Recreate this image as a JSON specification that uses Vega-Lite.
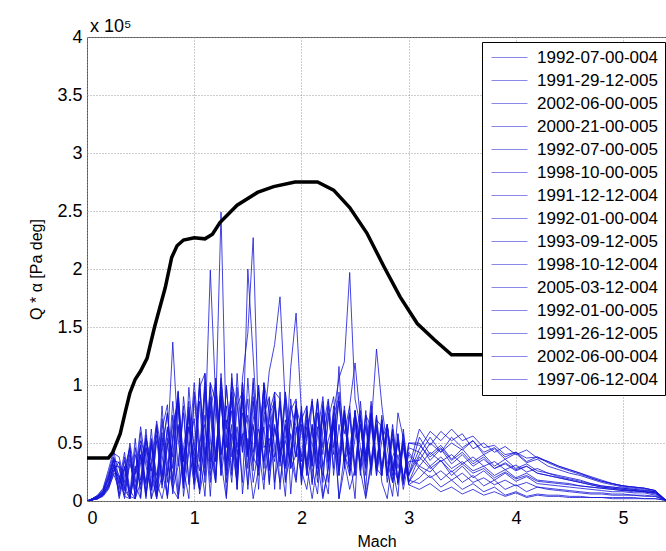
{
"$schema":"https://vega.github.io/schema/vega-lite/v6.json",
"width":579,"height":464,
"autosize":{"type":"none"},
"padding":{"left":87,"top":37,"right":0,"bottom":50},
"background":"white",
"title":{"text":"x 10⁵","anchor":"start","frame":"group","fontSize":18,"font":"Liberation Sans","fontWeight":"normal","color":"#000","offset":-8,"dx":3},
"config":{
 "view":{"stroke":"#555","strokeWidth":1},
 "font":"Liberation Sans",
 "axis":{"grid":true,"gridDash":[1,2],"gridColor":"#999","gridOpacity":1,"gridWidth":1,"domain":false,"ticks":false,"labelFont":"Liberation Sans","labelFontSize":18,"labelColor":"#000","titleFont":"Liberation Sans","titleFontSize":16,"titleFontWeight":"normal","titleColor":"#000"}
},
"datasets":{
 "names":[{"k":"a","run":"1992-07-00-004"},{"k":"b","run":"1991-29-12-005"},{"k":"c","run":"2002-06-00-005"},{"k":"d","run":"2000-21-00-005"},{"k":"e","run":"1992-07-00-005"},{"k":"f","run":"1998-10-00-005"},{"k":"g","run":"1991-12-12-004"},{"k":"h","run":"1992-01-00-004"},{"k":"i","run":"1993-09-12-005"},{"k":"j","run":"1998-10-12-004"},{"k":"k","run":"2005-03-12-004"},{"k":"l","run":"1992-01-00-005"},{"k":"m","run":"1991-26-12-005"},{"k":"n","run":"2002-06-00-004"},{"k":"o","run":"1997-06-12-004"}],
 "env":[{"M":0,"v":0.37},{"M":0.2,"v":0.37},{"M":0.24,"v":0.42},{"M":0.31,"v":0.58},{"M":0.36,"v":0.78},{"M":0.4,"v":0.93},{"M":0.45,"v":1.05},{"M":0.5,"v":1.12},{"M":0.56,"v":1.23},{"M":0.63,"v":1.5},{"M":0.73,"v":1.84},{"M":0.79,"v":2.1},{"M":0.84,"v":2.2},{"M":0.9,"v":2.25},{"M":1.0,"v":2.27},{"M":1.1,"v":2.26},{"M":1.17,"v":2.3},{"M":1.24,"v":2.4},{"M":1.4,"v":2.55},{"M":1.59,"v":2.66},{"M":1.74,"v":2.71},{"M":1.94,"v":2.75},{"M":2.15,"v":2.75},{"M":2.3,"v":2.68},{"M":2.45,"v":2.53},{"M":2.61,"v":2.31},{"M":2.77,"v":2.02},{"M":2.92,"v":1.76},{"M":3.08,"v":1.53},{"M":3.24,"v":1.39},{"M":3.4,"v":1.26},{"M":3.9,"v":1.26}],
 "blue":[
{"M":0,"a":0,"b":0,"c":0,"d":0,"e":0,"f":0,"g":0,"h":0,"i":0,"j":0,"k":0,"l":0,"m":0,"n":0,"o":0},
{"M":0.05,"a":0.01,"b":0.02,"c":0.01,"d":0.02,"e":0.01,"f":0.01,"g":0.02,"h":0.01,"i":0.02,"j":0.01,"k":0.01,"l":0.02,"m":0.01,"n":0.01,"o":0.02},
{"M":0.1,"a":0.03,"b":0.04,"c":0.02,"d":0.05,"e":0.03,"f":0.02,"g":0.04,"h":0.02,"i":0.05,"j":0.03,"k":0.02,"l":0.04,"m":0.02,"n":0.03,"o":0.04},
{"M":0.15,"a":0.06,"b":0.09,"c":0.05,"d":0.11,"e":0.08,"f":0.06,"g":0.09,"h":0.04,"i":0.1,"j":0.07,"k":0.05,"l":0.08,"m":0.05,"n":0.07,"o":0.06},
{"M":0.2,"a":0.15,"b":0.22,"c":0.12,"d":0.27,"e":0.18,"f":0.14,"g":0.2,"h":0.1,"i":0.24,"j":0.16,"k":0.13,"l":0.21,"m":0.11,"n":0.19,"o":0.14},
{"M":0.25,"a":0.32,"b":0.38,"c":0.26,"d":0.44,"e":0.35,"f":0.29,"g":0.36,"h":0.24,"i":0.41,"j":0.31,"k":0.27,"l":0.37,"m":0.23,"n":0.35,"o":0.3},
{"M":0.3,"a":0.22,"b":0.06,"c":0.34,"d":0.16,"e":0.02,"f":0.3,"g":0.12,"h":0.22,"i":0.38,"j":0.04,"k":0.2,"l":0.28,"m":0.1,"n":0.33,"o":0.15},
{"M":0.35,"a":0.04,"b":0.28,"c":0.14,"d":0.42,"e":0.22,"f":0.1,"g":0.35,"h":0.02,"i":0.16,"j":0.3,"k":0.09,"l":0.05,"m":0.38,"n":0.11,"o":0.29},
{"M":0.4,"a":0.02,"b":0.46,"c":0.02,"d":0.09,"e":0.46,"f":0.02,"g":0.04,"h":0.36,"i":0.5,"j":0.02,"k":0.4,"l":0.32,"m":0.06,"n":0.44,"o":0.03},
{"M":0.45,"a":0.3,"b":0.02,"c":0.26,"d":0.02,"e":0.14,"f":0.26,"g":0.02,"h":0.1,"i":0.23,"j":0.46,"k":0.04,"l":0.16,"m":0.54,"n":0.02,"o":0.4},
{"M":0.5,"a":0.14,"b":0.16,"c":0.4,"d":0.52,"e":0.02,"f":0.48,"g":0.33,"h":0.4,"i":0.64,"j":0.1,"k":0.48,"l":0.59,"m":0.03,"n":0.38,"o":0.18},
{"M":0.55,"a":0.46,"b":0.54,"c":0.04,"d":0.38,"e":0.57,"f":0.06,"g":0.52,"h":0.02,"i":0.3,"j":0.54,"k":0.14,"l":0.06,"m":0.46,"n":0.16,"o":0.62},
{"M":0.6,"a":0.28,"b":0.34,"c":0.5,"d":0.02,"e":0.22,"f":0.34,"g":0.11,"h":0.47,"i":0.1,"j":0.26,"k":0.62,"l":0.52,"m":0.02,"n":0.54,"o":0.09},
{"M":0.65,"a":0.02,"b":0.04,"c":0.16,"d":0.18,"e":0.02,"f":0.69,"g":0.64,"h":0.06,"i":0.52,"j":0.66,"k":0.11,"l":0.22,"m":0.57,"n":0.04,"o":0.64},
{"M":0.7,"a":0.54,"b":0.22,"c":0.02,"d":0.62,"e":0.42,"f":0.4,"g":0.26,"h":0.59,"i":0.16,"j":0.14,"k":0.82,"l":0.46,"m":0.21,"n":0.71,"o":0.11},
{"M":0.75,"a":0.34,"b":0.62,"c":0.26,"d":0.83,"e":0.76,"f":0.04,"g":0.04,"h":0.02,"i":0.46,"j":0.5,"k":0.16,"l":0.76,"m":0.64,"n":0.22,"o":0.54},
{"M":0.8,"a":0.1,"b":0.4,"c":0.66,"d":0.1,"e":0.16,"f":0.5,"g":0.54,"h":0.57,"i":1.37,"j":0.18,"k":0.74,"l":0.28,"m":0.06,"n":0.86,"o":0.38},
{"M":0.85,"a":0.02,"b":0.02,"c":0.86,"d":0.3,"e":0.66,"f":0.88,"g":0.9,"h":0.94,"i":0.54,"j":0.83,"k":0.06,"l":0.95,"m":0.64,"n":0.3,"o":0.88},
{"M":0.9,"a":0.38,"b":0.46,"c":0.16,"d":0.76,"e":0.28,"f":0.11,"g":0.34,"h":0.22,"i":0.14,"j":0.04,"k":0.9,"l":0.34,"m":0.16,"n":0.82,"o":0.11},
{"M":0.95,"a":0.64,"b":0.76,"c":0.46,"d":0.16,"e":0.02,"f":0.81,"g":0.76,"h":0.86,"i":0.64,"j":0.42,"k":0.46,"l":0.78,"m":0.98,"n":0.14,"o":0.74},
{"M":1.0,"a":0.22,"b":0.3,"c":0.71,"d":0.46,"e":0.94,"f":0.46,"g":0.1,"h":0.16,"i":0.38,"j":1.02,"k":0.14,"l":0.22,"m":0.42,"n":0.9,"o":0.23},
{"M":1.05,"a":0.5,"b":0.1,"c":0.06,"d":0.98,"e":0.42,"f":0.26,"g":0.46,"h":1.06,"i":0.1,"j":0.5,"k":0.99,"l":0.86,"m":0.1,"n":0.34,"o":1.02},
{"M":1.1,"a":0.66,"b":0.58,"c":0.34,"d":1.1,"e":0.04,"f":1.02,"g":0.98,"h":0.34,"i":0.94,"j":0.22,"k":0.4,"l":0.16,"m":1.1,"n":0.74,"o":0.28},
{"M":1.15,"a":0.04,"b":1.99,"c":1.02,"d":0.22,"e":0.78,"f":0.54,"g":0.42,"h":0.86,"i":0.28,"j":0.98,"k":0.78,"l":1.02,"m":0.34,"n":0.16,"o":0.9},
{"M":1.2,"a":0.76,"b":0.88,"c":0.86,"d":0.4,"e":1.02,"f":0.16,"g":0.16,"h":0.22,"i":1.02,"j":0.34,"k":0.16,"l":0.4,"m":0.9,"n":1.06,"o":0.34},
{"M":1.25,"a":2.49,"b":0.22,"c":0.28,"d":0.9,"e":0.34,"f":0.9,"g":1.06,"h":1.1,"i":0.4,"j":0.94,"k":1.02,"l":0.9,"m":0.22,"n":0.4,"o":0.98},
{"M":1.3,"a":0.52,"b":0.54,"c":0.98,"d":0.26,"e":0.02,"f":0.22,"g":0.34,"h":0.46,"i":0.82,"j":0.16,"k":0.62,"l":0.3,"m":1.0,"n":0.7,"o":0.04},
{"M":1.35,"a":0.16,"b":0.86,"c":0.46,"d":1.02,"e":1.1,"f":0.94,"g":0.9,"h":0.78,"i":0.26,"j":0.66,"k":0.94,"l":1.06,"m":0.38,"n":0.22,"o":0.58},
{"M":1.4,"a":0.82,"b":0.28,"c":0.16,"d":0.82,"e":0.46,"f":0.4,"g":0.1,"h":0.14,"i":0.98,"j":0.1,"k":0.22,"l":0.42,"m":0.64,"n":1.1,"o":0.3},
{"M":1.45,"a":0.94,"b":1.02,"c":1.06,"d":0.42,"e":0.9,"f":0.54,"g":0.94,"h":1.02,"i":0.06,"j":0.86,"k":0.76,"l":0.58,"m":0.16,"n":0.42,"o":0.94},
{"M":1.5,"a":0.42,"b":0.66,"c":1.45,"d":2.0,"e":0.38,"f":0.74,"g":0.4,"h":0.4,"i":0.54,"j":0.28,"k":0.42,"l":0.14,"m":1.06,"n":0.88,"o":0.1},
{"M":1.55,"a":0.02,"b":0.16,"c":2.27,"d":1.24,"e":1.06,"f":0.38,"g":0.66,"h":0.7,"i":0.34,"j":1.02,"k":0.9,"l":0.86,"m":0.42,"n":0.26,"o":0.64},
{"M":1.6,"a":0.28,"b":0.46,"c":0.64,"d":0.46,"e":0.26,"f":0.28,"g":0.22,"h":0.94,"i":1.0,"j":0.38,"k":0.1,"l":0.34,"m":0.62,"n":1.0,"o":0.4},
{"M":1.65,"a":0.74,"b":1.0,"c":0.34,"d":0.1,"e":0.64,"f":1.02,"g":0.98,"h":0.18,"i":0.28,"j":0.64,"k":0.86,"l":1.02,"m":0.34,"n":0.46,"o":0.98},
{"M":1.7,"a":0.9,"b":0.14,"c":0.74,"d":0.76,"e":1.12,"f":0.76,"g":0.42,"h":0.42,"i":0.66,"j":0.16,"k":0.46,"l":0.28,"m":0.88,"n":0.54,"o":0.26},
{"M":1.75,"a":0.46,"b":0.64,"c":0.86,"d":0.94,"e":1.35,"f":0.16,"g":0.86,"h":0.94,"i":0.38,"j":0.9,"k":0.66,"l":0.62,"m":0.1,"n":0.34,"o":0.82},
{"M":1.8,"a":0.16,"b":0.34,"c":0.42,"d":0.88,"e":1.76,"f":0.46,"g":0.3,"h":0.1,"i":0.86,"j":0.42,"k":0.34,"l":0.46,"m":0.94,"n":0.86,"o":0.4},
{"M":1.85,"a":0.54,"b":0.94,"c":0.04,"d":0.18,"e":0.82,"f":0.28,"g":0.7,"h":0.64,"i":0.3,"j":0.52,"k":0.88,"l":0.94,"m":0.3,"n":0.16,"o":0.66},
{"M":1.9,"a":0.82,"b":0.52,"c":0.78,"d":0.4,"e":0.28,"f":1.15,"g":0.4,"h":0.28,"i":0.7,"j":0.34,"k":0.06,"l":0.38,"m":0.58,"n":0.88,"o":0.3},
{"M":1.95,"a":0.64,"b":0.18,"c":0.88,"d":0.82,"e":0.4,"f":1.62,"g":0.86,"h":0.82,"i":0.38,"j":0.82,"k":0.64,"l":0.16,"m":0.38,"n":0.46,"o":0.82},
{"M":2.0,"a":0.26,"b":0.7,"c":0.22,"d":0.62,"e":0.82,"f":0.76,"g":0.22,"h":0.14,"i":0.78,"j":0.16,"k":0.38,"l":0.66,"m":0.76,"n":0.22,"o":0.34},
{"M":2.05,"a":0.1,"b":0.82,"c":0.54,"d":0.3,"e":0.22,"f":0.34,"g":0.76,"h":0.58,"i":0.28,"j":0.7,"k":0.82,"l":0.28,"m":0.22,"n":0.78,"o":0.64},
{"M":2.1,"a":0.46,"b":0.28,"c":0.86,"d":0.02,"e":0.54,"f":0.64,"g":0.3,"h":0.88,"i":0.66,"j":0.3,"k":0.16,"l":0.86,"m":0.66,"n":0.34,"o":0.14},
{"M":2.15,"a":0.76,"b":0.06,"c":0.34,"d":0.34,"e":0.86,"f":0.22,"g":0.88,"h":0.34,"i":0.16,"j":0.88,"k":0.58,"l":0.4,"m":0.28,"n":0.64,"o":0.76},
{"M":2.2,"a":0.3,"b":0.62,"c":0.02,"d":0.74,"e":0.04,"f":0.82,"g":0.26,"h":0.74,"i":0.82,"j":0.46,"k":0.9,"l":0.22,"m":0.86,"n":0.16,"o":0.4},
{"M":2.25,"a":0.52,"b":0.88,"c":0.28,"d":0.16,"e":0.28,"f":0.38,"g":0.06,"h":0.28,"i":0.4,"j":0.82,"k":0.34,"l":0.7,"m":0.34,"n":0.76,"o":0.86},
{"M":2.3,"a":0.7,"b":0.46,"c":0.74,"d":0.66,"e":0.7,"f":0.66,"g":0.76,"h":0.82,"i":0.7,"j":0.28,"k":0.76,"l":0.9,"m":0.66,"n":0.4,"o":0.22},
{"M":2.35,"a":0.02,"b":0.86,"c":0.9,"d":0.86,"e":0.22,"f":0.02,"g":1.06,"h":0.4,"i":0.22,"j":0.94,"k":0.26,"l":0.34,"m":0.26,"n":1.16,"o":0.66},
{"M":2.4,"a":0.4,"b":0.34,"c":0.34,"d":0.4,"e":0.78,"f":0.28,"g":1.2,"h":0.78,"i":0.74,"j":0.58,"k":0.7,"l":0.76,"m":0.82,"n":0.28,"o":0.34},
{"M":2.45,"a":0.22,"b":0.1,"c":0.46,"d":0.28,"e":0.4,"f":0.76,"g":1.97,"h":0.26,"i":0.28,"j":0.82,"k":0.34,"l":0.22,"m":0.4,"n":0.74,"o":0.82},
{"M":2.5,"a":0.54,"b":0.28,"c":0.76,"d":0.78,"e":0.02,"f":0.22,"g":0.88,"h":0.7,"i":0.78,"j":1.19,"k":0.78,"l":0.66,"m":0.74,"n":0.22,"o":0.28},
{"M":2.55,"a":0.78,"b":0.74,"c":0.26,"d":0.46,"e":0.86,"f":0.66,"g":0.64,"h":0.3,"i":0.22,"j":0.7,"k":0.28,"l":0.26,"m":0.34,"n":0.66,"o":0.74},
{"M":2.6,"a":0.04,"b":0.38,"c":0.02,"d":0.1,"e":0.34,"f":0.34,"g":0.3,"h":0.74,"i":0.66,"j":0.4,"k":0.74,"l":0.78,"m":0.64,"n":0.28,"o":0.22},
{"M":2.65,"a":0.34,"b":0.76,"c":0.3,"d":0.82,"e":0.76,"f":0.76,"g":0.74,"h":0.64,"i":0.34,"j":0.86,"k":0.22,"l":0.28,"m":0.26,"n":0.7,"o":0.66},
{"M":2.7,"a":0.62,"b":0.22,"c":0.7,"d":0.26,"e":0.28,"f":0.28,"g":0.28,"h":1.31,"i":0.74,"j":0.34,"k":0.64,"l":0.74,"m":0.66,"n":0.22,"o":0.28},
{"M":2.75,"a":0.16,"b":0.52,"c":0.64,"d":0.66,"e":0.22,"f":0.74,"g":0.7,"h":0.82,"i":0.22,"j":0.66,"k":0.28,"l":0.22,"m":0.3,"n":0.64,"o":0.7},
{"M":2.8,"a":0.02,"b":0.66,"c":0.26,"d":0.34,"e":0.66,"f":0.22,"g":0.22,"h":0.46,"i":0.66,"j":0.22,"k":0.66,"l":0.64,"m":0.58,"n":0.16,"o":0.22},
{"M":2.85,"a":0.38,"b":0.28,"c":0.04,"d":0.16,"e":0.3,"f":0.66,"g":0.62,"h":0.16,"i":0.28,"j":0.58,"k":0.16,"l":0.26,"m":0.22,"n":0.54,"o":0.62},
{"M":2.9,"a":0.5,"b":0.04,"c":0.58,"d":0.76,"e":0.18,"f":0.28,"g":0.16,"h":0.4,"i":0.54,"j":0.16,"k":0.58,"l":0.52,"m":0.5,"n":0.14,"o":0.16},
{"M":2.95,"a":0.22,"b":0.62,"c":0.16,"d":0.54,"e":0.58,"f":0.52,"g":0.52,"h":0.1,"i":0.18,"j":0.5,"k":0.14,"l":0.16,"m":0.18,"n":0.46,"o":0.52},
{"M":3.0,"a":0.28,"b":0.22,"c":0.5,"d":0.22,"e":0.16,"f":0.22,"g":0.14,"h":0.34,"i":0.46,"j":0.18,"k":0.5,"l":0.42,"m":0.4,"n":0.16,"o":0.14},
{"M":3.1,"a":0.62,"b":0.4,"c":0.5,"d":0.45,"e":0.3,"f":0.55,"g":0.2,"h":0.35,"i":0.42,"j":0.15,"k":0.48,"l":0.3,"m":0.28,"n":0.38,"o":0.1},
{"M":3.2,"a":0.48,"b":0.55,"c":0.35,"d":0.6,"e":0.25,"f":0.4,"g":0.3,"h":0.5,"i":0.3,"j":0.22,"k":0.38,"l":0.42,"m":0.2,"n":0.28,"o":0.15},
{"M":3.3,"a":0.6,"b":0.42,"c":0.45,"d":0.52,"e":0.35,"f":0.48,"g":0.18,"h":0.42,"i":0.38,"j":0.12,"k":0.46,"l":0.34,"m":0.26,"n":0.35,"o":0.08},
{"M":3.4,"a":0.52,"b":0.5,"c":0.32,"d":0.62,"e":0.22,"f":0.36,"g":0.26,"h":0.55,"i":0.28,"j":0.18,"k":0.35,"l":0.4,"m":0.18,"n":0.25,"o":0.12},
{"M":3.5,"a":0.58,"b":0.44,"c":0.4,"d":0.52,"e":0.3,"f":0.45,"g":0.16,"h":0.46,"i":0.34,"j":0.1,"k":0.42,"l":0.32,"m":0.24,"n":0.32,"o":0.06},
{"M":3.6,"a":0.45,"b":0.52,"c":0.3,"d":0.56,"e":0.2,"f":0.34,"g":0.22,"h":0.52,"i":0.26,"j":0.15,"k":0.32,"l":0.38,"m":0.16,"n":0.24,"o":0.1},
{"M":3.7,"a":0.5,"b":0.4,"c":0.36,"d":0.46,"e":0.26,"f":0.4,"g":0.13,"h":0.42,"i":0.3,"j":0.08,"k":0.38,"l":0.3,"m":0.2,"n":0.28,"o":0.05},
{"M":3.8,"a":0.42,"b":0.45,"c":0.28,"d":0.48,"e":0.18,"f":0.3,"g":0.18,"h":0.46,"i":0.22,"j":0.12,"k":0.28,"l":0.34,"m":0.14,"n":0.2,"o":0.08},
{"M":3.9,"a":0.47,"b":0.36,"c":0.32,"d":0.4,"e":0.24,"f":0.36,"g":0.1,"h":0.38,"i":0.27,"j":0.05,"k":0.33,"l":0.27,"m":0.18,"n":0.25,"o":0.04},
{"M":4.0,"a":0.4,"b":0.41,"c":0.26,"d":0.42,"e":0.17,"f":0.28,"g":0.14,"h":0.42,"i":0.2,"j":0.08,"k":0.27,"l":0.31,"m":0.13,"n":0.19,"o":0.07},
{"M":4.1,"a":0.44,"b":0.33,"c":0.3,"d":0.37,"e":0.21,"f":0.32,"g":0.08,"h":0.34,"i":0.24,"j":0.04,"k":0.3,"l":0.25,"m":0.16,"n":0.22,"o":0.03},
{"M":4.2,"a":0.37,"b":0.36,"c":0.24,"d":0.38,"e":0.15,"f":0.26,"g":0.12,"h":0.38,"i":0.18,"j":0.06,"k":0.24,"l":0.28,"m":0.12,"n":0.17,"o":0.05},
{"M":4.3,"a":0.34,"b":0.3,"c":0.22,"d":0.34,"e":0.14,"f":0.24,"g":0.1,"h":0.33,"i":0.17,"j":0.05,"k":0.22,"l":0.24,"m":0.11,"n":0.16,"o":0.04},
{"M":4.4,"a":0.3,"b":0.27,"c":0.2,"d":0.3,"e":0.13,"f":0.22,"g":0.09,"h":0.29,"i":0.16,"j":0.05,"k":0.2,"l":0.21,"m":0.1,"n":0.15,"o":0.04},
{"M":4.5,"a":0.27,"b":0.24,"c":0.18,"d":0.27,"e":0.12,"f":0.2,"g":0.08,"h":0.26,"i":0.15,"j":0.04,"k":0.18,"l":0.19,"m":0.09,"n":0.14,"o":0.03},
{"M":4.6,"a":0.24,"b":0.22,"c":0.16,"d":0.24,"e":0.11,"f":0.18,"g":0.07,"h":0.23,"i":0.13,"j":0.04,"k":0.16,"l":0.17,"m":0.08,"n":0.13,"o":0.03},
{"M":4.7,"a":0.2,"b":0.19,"c":0.14,"d":0.21,"e":0.1,"f":0.15,"g":0.06,"h":0.2,"i":0.12,"j":0.03,"k":0.14,"l":0.15,"m":0.07,"n":0.12,"o":0.03},
{"M":4.8,"a":0.17,"b":0.16,"c":0.12,"d":0.18,"e":0.09,"f":0.13,"g":0.06,"h":0.17,"i":0.11,"j":0.03,"k":0.12,"l":0.13,"m":0.07,"n":0.11,"o":0.03},
{"M":4.9,"a":0.15,"b":0.14,"c":0.11,"d":0.15,"e":0.08,"f":0.12,"g":0.05,"h":0.15,"i":0.1,"j":0.03,"k":0.11,"l":0.12,"m":0.06,"n":0.1,"o":0.02},
{"M":5.0,"a":0.13,"b":0.12,"c":0.1,"d":0.13,"e":0.08,"f":0.11,"g":0.05,"h":0.13,"i":0.09,"j":0.03,"k":0.1,"l":0.11,"m":0.06,"n":0.09,"o":0.02},
{"M":5.1,"a":0.12,"b":0.11,"c":0.09,"d":0.12,"e":0.07,"f":0.1,"g":0.05,"h":0.12,"i":0.08,"j":0.03,"k":0.09,"l":0.1,"m":0.05,"n":0.09,"o":0.02},
{"M":5.2,"a":0.11,"b":0.1,"c":0.08,"d":0.11,"e":0.07,"f":0.09,"g":0.04,"h":0.11,"i":0.08,"j":0.02,"k":0.08,"l":0.09,"m":0.05,"n":0.08,"o":0.02},
{"M":5.3,"a":0.09,"b":0.08,"c":0.07,"d":0.09,"e":0.05,"f":0.08,"g":0.04,"h":0.09,"i":0.06,"j":0.02,"k":0.07,"l":0.08,"m":0.04,"n":0.07,"o":0.02},
{"M":5.4,"a":0.005,"b":0.005,"c":0.005,"d":0.005,"e":0.005,"f":0.005,"g":0.005,"h":0.005,"i":0.005,"j":0.005,"k":0.005,"l":0.005,"m":0.005,"n":0.005,"o":0.005}
 ]
},
"layer":[
 {"data":{"name":"blue"},
  "transform":[{"fold":["a","b","c","d","e","f","g","h","i","j","k","l","m","n","o"],"as":["k","q"]},{"lookup":"k","from":{"data":{"name":"names"},"key":"k","fields":["run"]}}],
  "mark":{"type":"line","strokeWidth":0.8,"clip":true},
  "encoding":{
   "x":{"field":"M","type":"quantitative","scale":{"domain":[0,5.4],"nice":false,"zero":false},"axis":{"title":"Mach","values":[0,1,2,3,4,5],"format":"~g","labelPadding":8,"titlePadding":6}},
   "y":{"field":"q","type":"quantitative","scale":{"domain":[0,4],"nice":false},"axis":{"title":"Q * α [Pa deg]","values":[0,0.5,1,1.5,2,2.5,3,3.5,4],"format":"~g","labelPadding":5,"titlePadding":12}},
   "color":{"field":"run","type":"nominal",
    "scale":{"domain":["1992-07-00-004","1991-29-12-005","2002-06-00-005","2000-21-00-005","1992-07-00-005","1998-10-00-005","1991-12-12-004","1992-01-00-004","1993-09-12-005","1998-10-12-004","2005-03-12-004","1992-01-00-005","1991-26-12-005","2002-06-00-004","1997-06-12-004"],
     "range":["#1414d8","#1414d8","#1414d8","#1414d8","#1414d8","#1414d8","#1414d8","#1414d8","#1414d8","#1414d8","#1414d8","#1414d8","#1414d8","#1414d8","#1414d8"]},
    "legend":{"orient":"none","legendX":395,"legendY":5,"title":null,"strokeColor":"#000","fillColor":"#fff","padding":7,"symbolType":"M-1,0H5","symbolSize":144,"symbolStrokeWidth":1,"symbolOpacity":0.5,"symbolFillColor":"transparent","labelFont":"Liberation Sans","labelFontSize":17,"labelColor":"#000","labelOffset":31,"rowPadding":5,"labelLimit":300}},
   "detail":{"field":"k"}
  }},
 {"data":{"name":"env"},
  "mark":{"type":"line","color":"#000","strokeWidth":3.5,"clip":true},
  "encoding":{"x":{"field":"M","type":"quantitative"},"y":{"field":"v","type":"quantitative"}}}
]
}
